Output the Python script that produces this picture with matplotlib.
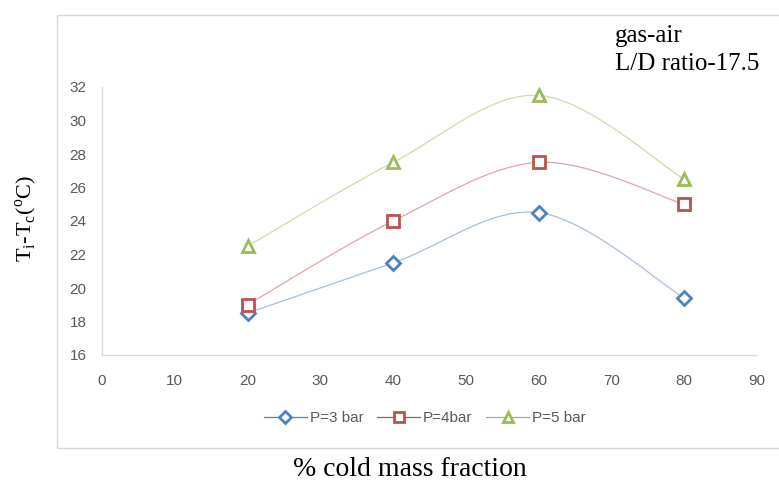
import numpy as np
import matplotlib
matplotlib.use("Agg")
import matplotlib.pyplot as plt
from matplotlib.patches import Rectangle
from matplotlib.lines import Line2D

x_vals = [20, 40, 60, 80]
p3 = [18.5, 21.5, 24.5, 19.4]
p4 = [19.0, 24.0, 27.5, 25.0]
p5 = [22.5, 27.5, 31.5, 26.5]
labels = ["P=3 bar", "P=4bar", "P=5 bar"]
xticks = list(range(0, 91, 10))
yticks = list(range(16, 33, 2))

colors = ["#4F81BD", "#C0504D", "#9BBB59"]
markers = ["D", "s", "^"]
msizes = [7.5, 8.5, 8.5]


def smooth(xs, ys, n=40):
    P = np.column_stack([xs, ys]).astype(float)
    out = []
    for i in range(len(P) - 1):
        p0 = P[i - 1] if i > 0 else P[i]
        p1 = P[i]
        p2 = P[i + 1]
        p3_ = P[i + 2] if i + 2 < len(P) else P[i + 1]
        c1 = p1 + (p2 - p0) / 6.0
        c2 = p2 - (p3_ - p1) / 6.0
        t = np.linspace(0, 1, n)[:, None]
        seg = ((1 - t) ** 3) * p1 + 3 * ((1 - t) ** 2) * t * c1 + 3 * (1 - t) * t ** 2 * c2 + t ** 3 * p2
        out.append(seg if i == 0 else seg[1:])
    s = np.vstack(out)
    return s[:, 0], s[:, 1]


fig = plt.figure(figsize=(7.79, 4.91), dpi=100)
fig.patch.set_facecolor("white")
fig.patches.append(Rectangle((57 / 779, 43 / 491), 1.0, 433 / 491, transform=fig.transFigure,
                             fill=False, edgecolor="#D9D9D9", linewidth=1.0, zorder=0))

ax = fig.add_axes([102 / 779, 136 / 491, 655 / 779, 268 / 491])
for ys, c, m, ms in zip([p3, p4, p5], colors, markers, msizes):
    sx, sy = smooth(x_vals, ys)
    ax.plot(sx, sy, color=c, lw=0.9, alpha=0.5, zorder=2)
    ax.plot(x_vals, ys, linestyle="none", marker=m, markersize=ms, markerfacecolor="white",
            markeredgecolor=c, markeredgewidth=2, zorder=3)

ax.set_xlim(0, 90)
ax.set_ylim(16, 32)
ax.set_xticks(xticks)
ax.set_yticks(yticks)
tick_font = ["Liberation Sans Narrow", "Liberation Sans", "DejaVu Sans"]
ax.set_xticklabels([str(v) for v in xticks], family=tick_font, fontsize=11, color="#595959")
ax.set_yticklabels([str(v) for v in yticks], family=tick_font, fontsize=11, color="#595959")
ax.tick_params(axis="x", length=0, pad=14)
ax.tick_params(axis="y", length=0, pad=11)
for s in ["top", "right"]:
    ax.spines[s].set_visible(False)
for s in ["left", "bottom"]:
    ax.spines[s].set_color("#D9D9D9")
    ax.spines[s].set_linewidth(1.0)

handles = [Line2D([0], [0], color=c, lw=0.9, marker=m, markersize=ms * 0.8, markerfacecolor="white",
                  markeredgecolor=c, markeredgewidth=2)
           for c, m, ms in zip(colors, markers, msizes)]
leg = fig.legend(handles, labels, loc="center", bbox_to_anchor=(425 / 779, 1 - 418 / 491), ncol=3,
                 frameon=False, prop={"family": tick_font, "size": 11}, handlelength=2.8,
                 columnspacing=0.9, handletextpad=0.2)
for t in leg.get_texts():
    t.set_color("#595959")

serif = "Liberation Serif"
fig.text(615 / 779, 1 - 36 / 491, "gas-air", family=serif, fontsize=18, ha="left", va="center")
fig.text(615 / 779, 1 - 64 / 491, "L/D ratio-17.5", family=serif, fontsize=18, ha="left", va="center")
fig.text(410 / 779, 1 - 470 / 491, "% cold mass fraction", family=serif, fontsize=20, ha="center", va="center")
fig.text(26 / 779, 1 - 219 / 491, r"T$_\mathregular{i}$-T$_\mathregular{c}$($^\mathregular{o}$C)",
         family=serif, fontsize=16, ha="center", va="center", rotation=90)

fig.savefig("out.png", dpi=100)
